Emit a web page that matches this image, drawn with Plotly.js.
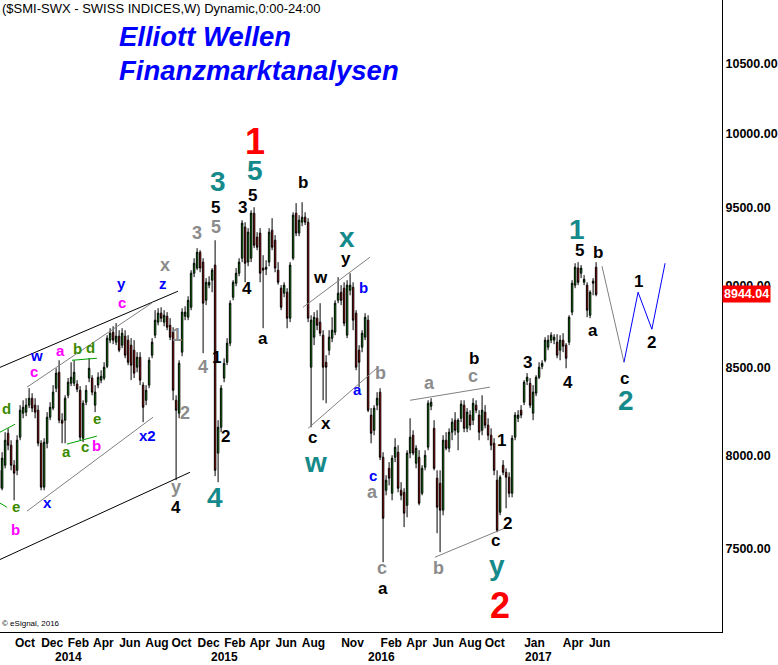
<!DOCTYPE html>
<html>
<head>
<meta charset="utf-8">
<script src="https://cdn.plot.ly/plotly-3.0.1.min.js"></script>
<style>
html,body{margin:0;padding:0;background:#fff;}
#chart{width:778px;height:665px;}
</style>
</head>
<body>
<div id="chart"></div>
<script>
// ---------- DATA (weekly SMI bars, first bar = week of 2013-08-26) ----------
const firstWeek = '2013-08-26';
const opens = [7917,7819,7945,8123,8056,7945,7917,8101,8237,8243,8283,8323,8283,8254,8067,7825,8067,8214,8266,8381,
8474,8197,8197,8340,8410,8410,8405,8369,8095,8300,8440,8440,8283,8399,8428,8440,8509,8665,8713,8653,
8689,8635,8689,8665,8635,8605,8504,8563,8399,8311,8399,8575,8695,8774,8829,8774,8810,8755,8713,8311,
8237,8593,8810,8804,8865,9077,9109,9210,9147,8908,9002,9033,9128,8012,8157,8440,8533,8647,8927,9014,
9077,9172,9372,9147,9172,9463,9307,9333,9109,9102,9147,9352,9287,9096,8983,8952,8958,8798,9172,9463,
9333,9404,9437,9404,8504,8683,8798,8774,8695,8533,8605,8677,8713,8908,8958,8983,8695,8970,8989,8829,
8605,8623,8683,8786,8226,8140,8283,8358,7989,7808,7928,7792,7989,8017,7808,7797,7727,8012,8112,7956,
7989,7792,7934,8045,8277,8151,7874,7846,7701,8084,8039,8129,8197,8129,8208,8283,8151,8226,8197,8283,
8226,8140,8243,8169,8112,8067,7863,7690,7945,7906,7879,7792,8101,8208,8254,8300,8422,8410,8237,8352,
8445,8509,8545,8623,8665,8665,8653,8605,8665,8635,8653,8835,9002,9109,9077,9020,9002,8816,9014,9115];
const highs = [7945,8017,8129,8151,8084,7973,8112,8283,8311,8323,8381,8352,8323,8283,8084,8095,8243,8300,8399,8498,
8545,8237,8340,8440,8533,8545,8428,8393,8311,8399,8557,8457,8399,8474,8486,8533,8695,8737,8749,8768,
8725,8737,8725,8695,8677,8665,8593,8593,8416,8399,8563,8677,8847,8859,8865,8847,8835,8798,8743,8340,
8545,8859,8871,8933,9096,9172,9236,9223,9172,9046,9058,9109,9287,8197,8399,8557,8677,8908,9033,9109,
9172,9417,9404,9365,9482,9502,9339,9365,9191,9159,9365,9430,9320,9147,9002,9020,8983,9147,9469,9529,
9450,9535,9469,9430,8816,8835,8847,8890,8725,8575,8725,8804,8908,9052,9002,9020,9033,9077,9020,8847,
8635,8725,8829,8816,8266,8283,8358,8381,8017,7890,7962,8000,8095,8056,7852,7819,8028,8208,8140,8056,
8028,7945,8028,8311,8323,8197,7917,7917,8112,8129,8151,8208,8243,8208,8311,8311,8266,8254,8323,8311,
8254,8340,8283,8208,8151,8095,7917,7890,7973,7928,7906,8112,8243,8254,8283,8428,8469,8440,8399,8457,
8533,8545,8683,8695,8713,8701,8701,8695,8707,8647,8816,9033,9140,9147,9128,9065,9020,8970,9046,9147];
const lows = [7781,7808,7928,8028,7917,7754,7890,8084,8208,8220,8266,8243,8208,8050,7808,7808,8039,8197,8254,8358,
8180,8067,8067,8323,8393,8393,8358,8084,8073,8283,8416,8340,8243,8381,8410,8428,8498,8647,8641,8635,
8593,8617,8557,8516,8428,8440,8474,8399,8186,8283,8381,8557,8677,8755,8774,8749,8725,8665,8311,7863,
8208,8569,8786,8786,8847,9052,9096,9083,8587,8878,8983,8958,7885,7852,8129,8416,8516,8629,8908,8995,
9058,9147,9020,9121,9147,9236,9223,9020,8737,9065,9121,9223,9083,9005,8847,8927,8737,8774,9159,9313,
9313,9378,9385,8774,8157,8635,8725,8689,8311,8294,8575,8653,8695,8890,8878,8749,8677,8939,8725,8486,
8387,8593,8665,8243,8067,8112,8254,7973,7428,7781,7835,7754,7962,7797,7754,7611,7663,7984,8000,7928,
7727,7781,7917,8028,8254,7917,7579,7480,7674,8028,8017,8084,8112,8028,8186,8129,8129,8140,8169,8237,
8084,8112,8151,8084,8028,7890,7584,7674,7890,7711,7770,7770,8084,8186,8208,8283,8399,8266,8197,8335,
8434,8492,8533,8605,8647,8641,8557,8545,8593,8498,8635,8816,8983,9002,9046,9002,8804,8798,8939,8933];
const closes = [7819,7984,8084,8056,7945,7901,8084,8254,8271,8283,8323,8266,8243,8067,7825,8073,8214,8271,8358,8469,
8197,8180,8323,8416,8445,8474,8375,8101,8294,8369,8498,8358,8358,8445,8451,8504,8677,8707,8665,8689,
8605,8707,8575,8533,8516,8469,8563,8428,8271,8369,8545,8653,8786,8829,8798,8816,8743,8683,8369,8254,
8527,8835,8835,8908,9077,9140,9210,9109,8890,9020,9020,9096,7917,8157,8381,8527,8647,8890,9020,9077,
9147,9398,9140,9339,9463,9255,9242,9077,9096,9115,9339,9242,9109,9020,8865,9002,8798,9128,9450,9333,
9417,9437,9404,8798,8786,8804,8755,8707,8504,8504,8683,8725,8890,8952,8908,8767,9002,9002,8786,8504,
8533,8707,8804,8254,8123,8266,8323,7989,7658,7863,7874,7984,8045,7819,7781,7685,8012,8101,8012,8039,
7738,7928,8000,8294,8300,7928,7717,7701,8084,8039,8129,8186,8140,8197,8289,8151,8243,8169,8294,8254,
8129,8254,8169,8112,8056,7917,7595,7879,7906,7879,7792,8095,8226,8226,8226,8416,8445,8283,8358,8445,
8504,8527,8665,8665,8695,8683,8575,8665,8629,8557,8804,9014,9115,9020,9109,9039,8847,8958,9027,8944.04];

// axis ticks
const yTickValues = [7500, 8000, 8500, 9000, 9500, 10000, 10500];
const monthTickDates = ['2013-10-01','2013-12-01','2014-02-01','2014-04-01','2014-06-01','2014-08-01','2014-10-01',
  '2014-12-01','2015-02-01','2015-04-01','2015-06-01','2015-08-01','2015-11-01','2016-02-01','2016-04-01',
  '2016-06-01','2016-08-01','2016-10-01','2017-01-01','2017-04-01','2017-06-01'];
const monthTickText = ['Oct','Dec','Feb','Apr','Jun','Aug','Oct','Dec','Feb','Apr','Jun','Aug','Nov','Feb','Apr',
  'Jun','Aug','Oct','Jan','Apr','Jun'];
const yearDates = ['2014-01-01','2015-01-01','2016-01-01','2017-01-01'];
const yearText = ['2014','2015','2016','2017'];

// trend lines (week index, price)
const chanUpperIdx = [0.3, 59.6],   chanUpperVal = [8503, 8964];
const chanLowerIdx = [0.3, 63.6],   chanLowerVal = [7442, 7906];
const greyUpIdx = [9.3, 51.3],      greyUpVal = [8387, 8896];
const greyLoIdx = [9.3, 51.3],      greyLoVal = [7696, 8214];
const wyUpIdx = [101.3, 123.6],     wyUpVal = [8865, 9178];
const wyLoIdx = [103, 126.3],       wyLoVal = [8151, 8504];
const b16UpIdx = [137, 163.6],      b16UpVal = [8311, 8387];
const b16LoIdx = [145.3, 168.6],    b16LoVal = [7454, 7606];
const grn1Idx = [0.3, 5.3],         grn1Val = [8129, 8174];
const grn2Idx = [0.3, 2.6],         grn2Val = [7739, 7717];
const grn3Idx = [24.3, 32.6],       grn3Val = [8545, 8557];
const grn4Idx = [22.6, 32.6],       grn4Val = [8062, 8107];
const projGreyIdx = [200.97, 208.3], projGreyVal = [9121, 8533];
const projBlueIdx = [208.3, 213, 217.6, 222], projBlueVal = [8533, 8958, 8731, 9140];

// wave labels: [text, week index, price, style]
const waveLabels = [
 ['5',84.6,9580,'k'],['5',72.0,9502,'k'],['3',81.0,9502,'k'],['b',101.3,9668,'k'],['4',82.6,8983,'k'],
 ['a',88,8677,'k'],['1',72.6,8563,'k'],['2',75.6,8107,'k'],['4',59,7717,'k'],['w',107,9052,'k'],
 ['y',115.6,9172,'k'],['c',104.3,8101,'k'],['x',109,8180,'k'],['a',128,7296,'k'],['b',158.3,8557,'k'],
 ['1',167.6,8084,'k'],['2',169.6,7631,'k'],['c',165.6,7542,'k'],['3',176,8533,'k'],['4',189.6,8416,'k'],
 ['5',193.6,9223,'k'],['b',199.6,9210,'k'],['a',198,8725,'k'],['1',213,9027,'k'],['2',217.6,8653,'k'],
 ['c',208.6,8440,'k'],
 ['3',66,9333,'g'],['5',72.3,9372,'g'],['1',59.3,8695,'g'],['2',62,8237,'g'],['4',68,8504,'g'],
 ['y',59,7825,'g'],['x',55.3,9128,'g'],['b',127,8469,'g'],['a',124.6,7797,'g'],['c',127.6,7397,'g'],
 ['a',143.6,8410,'g'],['c',158,8451,'g'],['b',146.6,7397,'g'],
 ['y',40.96,9014,'b'],['w',12.6,8575,'b'],['x',15.97,7743,'b'],['z',54.6,9014,'b'],['x2',49.3,8112,'b'],
 ['b',121.6,8989,'b'],['a',119.3,8375,'b'],['c',124.6,7890,'b'],
 ['c',40.96,8896,'m'],['c',11.6,8480,'m'],['a',20.6,8605,'m'],['b',32.6,8056,'m'],['b',5.6,7600,'m'],
 ['b',26,8617,'o'],['d',30.6,8623,'o'],['d',2.6,8266,'o'],['e',32.6,8208,'o'],['a',22.6,8023,'o'],
 ['c',28.6,8050,'o'],['e',5.6,7722,'o'],
 ['3',72.97,9675,'t'],['5',85.3,9745,'t'],['4',71.97,7770,'t'],['x',115.97,9307,'t'],['w',105.3,7962,'t'],
 ['y',165.97,7413,'t'],['1',192.6,9359,'t'],['2',208.97,8311,'t'],
 ['1',85.3,9945,'r'],['2',166.97,7210,'r']
];

// ---------- helpers ----------
const FONT = 'Liberation Sans, Arial, Helvetica, sans-serif';
const t0 = Date.parse(firstWeek + 'T00:00:00Z');
function weekDate(idx){
  const d = new Date(t0 + idx * 7 * 86400000);
  return d.toISOString().slice(0,19).replace('T',' ');
}
const dates = opens.map((_, i) => weekDate(i));
const styles = {
  k:{color:'#000000', size:17},
  g:{color:'#8c8c8c', size:18},
  b:{color:'#0000ff', size:15},
  m:{color:'#ff00ff', size:15},
  o:{color:'#3a8a00', size:15},
  t:{color:'#168a8a', size:28},
  r:{color:'#ff0000', size:36}
};

function lineTrace(idxArr, valArr, color){
  return {type:'scatter', mode:'lines', x:idxArr.map(weekDate), y:valArr,
    line:{color:color, width:1}, hoverinfo:'none', showlegend:false};
}

const traces = [
  {type:'candlestick', x:dates, open:opens, high:highs, low:lows, close:closes,
   increasing:{line:{color:'#000000', width:1}, fillcolor:'#00cc00'},
   decreasing:{line:{color:'#000000', width:1}, fillcolor:'#ff0000'},
   whiskerwidth:0, hoverinfo:'none', showlegend:false},
  lineTrace(chanUpperIdx, chanUpperVal, '#000000'),
  lineTrace(chanLowerIdx, chanLowerVal, '#000000'),
  lineTrace(greyUpIdx, greyUpVal, '#808080'),
  lineTrace(greyLoIdx, greyLoVal, '#808080'),
  lineTrace(wyUpIdx, wyUpVal, '#808080'),
  lineTrace(wyLoIdx, wyLoVal, '#808080'),
  lineTrace(b16UpIdx, b16UpVal, '#808080'),
  lineTrace(b16LoIdx, b16LoVal, '#808080'),
  lineTrace(grn1Idx, grn1Val, '#00a000'),
  lineTrace(grn2Idx, grn2Val, '#00a000'),
  lineTrace(grn3Idx, grn3Val, '#00a000'),
  lineTrace(grn4Idx, grn4Val, '#00a000'),
  lineTrace(projGreyIdx, projGreyVal, '#808080'),
  lineTrace(projBlueIdx, projBlueVal, '#0000ff')
];

const annotations = [];
waveLabels.forEach(([txt, idx, price, st]) => {
  const s = styles[st];
  annotations.push({x:weekDate(idx), y:Math.log10(price), xref:'x', yref:'y', text:'<b>'+txt+'</b>',
    showarrow:false, xanchor:'center', yanchor:'middle', borderpad:0,
    font:{family:FONT, size:s.size, color:s.color}});
});
yearDates.forEach((d, i) => {
  annotations.push({x:d, y:0, xref:'x', yref:'paper', text:'<b>'+yearText[i]+'</b>', showarrow:false,
    xanchor:'left', yanchor:'middle', yshift:-25, borderpad:0, font:{family:FONT, size:12, color:'#000'}});
});
// header texts
annotations.push({x:0, y:1, xref:'paper', yref:'paper', xanchor:'left', yanchor:'top', showarrow:false,
  text:'($SMI-SWX - SWISS INDICES,W) Dynamic,0:00-24:00', font:{family:FONT, size:13, color:'#000'}, yshift:1});
annotations.push({x:0.1648, y:0.9415, xref:'paper', yref:'paper', xanchor:'left', yanchor:'middle', showarrow:false,
  text:'<b><i>Elliott Wellen</i></b>', font:{family:FONT, size:27.5, color:'#0000ff'}, xshift:-2});
annotations.push({x:0.1648, y:0.8892, xref:'paper', yref:'paper', xanchor:'left', yanchor:'middle', showarrow:false,
  text:'<b><i>Finanzmarktanalysen</i></b>', font:{family:FONT, size:27.5, color:'#0000ff'}, xshift:-2});
annotations.push({x:0, y:0, xref:'paper', yref:'paper', xanchor:'left', yanchor:'bottom', showarrow:false,
  text:'© eSignal, 2016', font:{family:FONT, size:8, color:'#000'}, yshift:2});
// last price box
const lastClose = closes[closes.length-1];
annotations.push({x:1, y:Math.log10(lastClose), xref:'paper', yref:'y', xanchor:'left', yanchor:'middle',
  showarrow:false, text:'<b>'+lastClose.toFixed(2)+'</b>', bgcolor:'#ff0000', borderpad:1,
  font:{family:FONT, size:12.5, color:'#ffffff'}});

const layout = {
  width:778, height:665,
  margin:{l:0, r:56, t:0, b:33, pad:0},
  paper_bgcolor:'#ffffff', plot_bgcolor:'#ffffff',
  showlegend:false, hovermode:false,
  xaxis:{type:'date', range:[weekDate(0.3), weekDate(240.97)], rangeslider:{visible:false},
    showgrid:false, zeroline:false, showline:true, linecolor:'#000', linewidth:1,
    tickmode:'array', tickvals:monthTickDates, ticktext:monthTickText, ticks:'', tickangle:0,
    ticklabelposition:'outside right',
    tickfont:{family:FONT, size:12, color:'#000', weight:'bold'}},
  yaxis:{type:'log', range:[Math.log10(7077), Math.log10(10971)], side:'right',
    showgrid:false, zeroline:false, showline:true, linecolor:'#000', linewidth:1,
    tickmode:'array', tickvals:yTickValues, ticktext:yTickValues.map(v => v.toFixed(2)), ticks:'',
    tickfont:{family:FONT, size:12.5, color:'#000', weight:'bold'}},
  annotations:annotations
};

Plotly.newPlot('chart', traces, layout, {displayModeBar:false, staticPlot:true});
</script>
</body>
</html>
